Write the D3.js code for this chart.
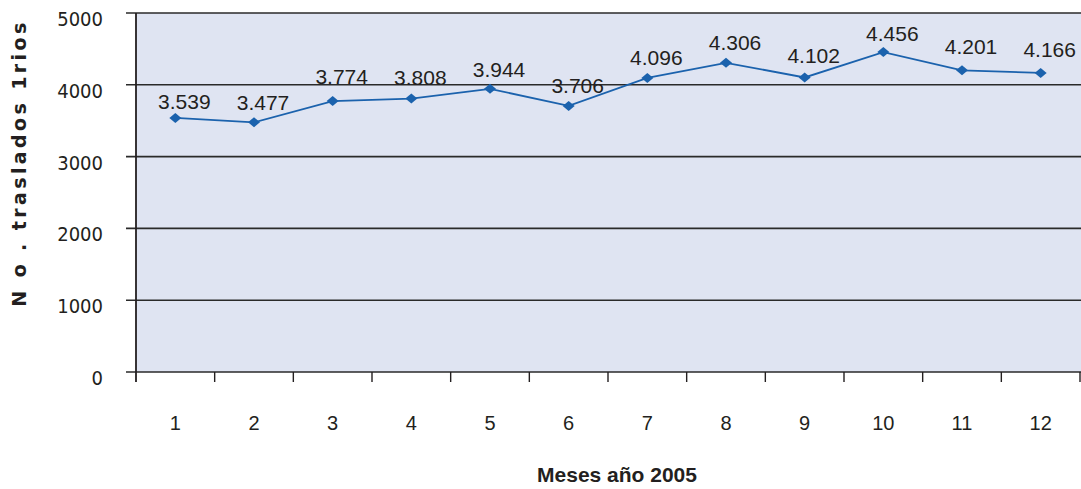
<!DOCTYPE html>
<html><head><meta charset="utf-8">
<script src="https://cdn.jsdelivr.net/npm/d3@7"></script>
<style>body{margin:0;background:#fff}svg{display:block}</style>
</head><body>
<svg id="c" width="1081" height="489"></svg>
<script>
const months = ["1","2","3","4","5","6","7","8","9","10","11","12"];
const values = [3539,3477,3774,3808,3944,3706,4096,4306,4102,4456,4201,4166];
const valueLabels = ["3.539","3.477","3.774","3.808","3.944","3.706","4.096","4.306","4.102","4.456","4.201","4.166"];
const yTicks = [0,1000,2000,3000,4000,5000];
const xTitle = "Meses año 2005";
const yTitle = "N o . traslados 1rios";
// styling: vertical gap (px) between each point and its label baseline
const labelGap = [8.6,12,16.7,13.3,12.3,13.3,12.7,12.7,14,11,16,16];

const svg = d3.select("#c");
const L = 136, R = 1080, T = 13, B = 372;
const x = d3.scaleBand().domain(months).range([L, R]);
const y = d3.scaleLinear().domain([0,5000]).range([B, T]);

svg.append("rect").attr("x",L).attr("y",T).attr("width",R-L+1).attr("height",B-T).attr("fill","#dfe4f2");

svg.append("g").selectAll("line").data(yTicks).join("line")
  .attr("x1",126).attr("x2",1081).attr("y1",d=>y(d)).attr("y2",d=>y(d))
  .attr("stroke","#2a2a2a").attr("stroke-width",1.6);
svg.append("g").selectAll("text").data(yTicks).join("text")
  .attr("x",103).attr("y",d=>y(d)+13).attr("text-anchor","end")
  .attr("font-family","DejaVu Sans Condensed, DejaVu Sans").attr("font-stretch","condensed")
  .attr("font-size",20).attr("fill","#231f20")
  .text(d=>d);

svg.append("line").attr("x1",L).attr("x2",L).attr("y1",T).attr("y2",B+10)
  .attr("stroke","#231f20").attr("stroke-width",1.8);

const bounds = months.map(m=>x(m)).concat([x(months[11])+x.bandwidth()]).slice(1);
svg.append("g").selectAll("line").data(bounds).join("line")
  .attr("x1",d=>d).attr("x2",d=>d).attr("y1",B).attr("y2",B+10)
  .attr("stroke","#231f20").attr("stroke-width",1.4);

svg.append("g").selectAll("text").data(months).join("text")
  .attr("x",d=>x(d)+x.bandwidth()/2).attr("y",430).attr("text-anchor","middle")
  .attr("font-family","Liberation Sans").attr("font-size",20).attr("fill","#231f20")
  .text(d=>d);

const cx = (d,i)=>x(months[i])+x.bandwidth()/2;
const line = d3.line().x((d,i)=>cx(d,i)).y(d=>y(d));
svg.append("path").datum(values).attr("d",line).attr("fill","none")
  .attr("stroke","#1b62ad").attr("stroke-width",1.8);
const wideDiamond = {draw(ctx,size){const w=6,h=5;ctx.moveTo(0,-h);ctx.lineTo(w,0);ctx.lineTo(0,h);ctx.lineTo(-w,0);ctx.closePath();}};
svg.append("g").selectAll("path").data(values).join("path")
  .attr("d",d3.symbol().type(wideDiamond))
  .attr("transform",(d,i)=>`translate(${cx(d,i)},${y(d)})`)
  .attr("fill","#1b62ad");

svg.append("g").selectAll("text").data(values).join("text")
  .attr("x",(d,i)=>cx(d,i)+9).attr("y",(d,i)=>y(d)-labelGap[i]).attr("text-anchor","middle")
  .attr("font-family","Liberation Sans").attr("font-size",21).attr("fill","#231f20")
  .text((d,i)=>valueLabels[i]);

svg.append("text").attr("x",617).attr("y",482).attr("text-anchor","middle")
  .attr("font-family","Liberation Sans").attr("font-weight","bold").attr("font-size",21)
  .attr("fill","#231f20").text(xTitle);

svg.append("text").attr("transform","translate(26,163) rotate(-90)").attr("text-anchor","middle")
  .attr("font-family","DejaVu Sans").attr("font-weight","bold").attr("font-size",19)
  .attr("letter-spacing",3.4).attr("fill","#231f20").text(yTitle);
</script>
</body></html>
